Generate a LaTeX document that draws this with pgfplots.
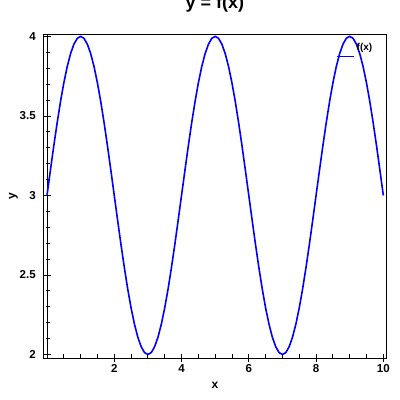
\documentclass[border=0pt]{standalone}
\usepackage{pgfplots}
\pgfplotsset{compat=1.18}
\usepackage{pgfplotstable}
\usepackage{fontspec}
\setmainfont{Liberation Sans}
\pgfplotsset{mylegend/.style={legend image code/.code={\draw[##1, line width=1.6pt] (0pt,-9pt) -- (17pt,-9pt);}}}
\pgfplotstableread{
x y
0.0 3.000
0.1 3.156
0.2 3.309
0.3 3.454
0.4 3.588
0.5 3.707
0.6 3.809
0.7 3.891
0.8 3.951
0.9 3.988
1.0 4.000
1.1 3.988
1.2 3.951
1.3 3.891
1.4 3.809
1.5 3.707
1.6 3.588
1.7 3.454
1.8 3.309
1.9 3.156
2.0 3.000
2.1 2.844
2.2 2.691
2.3 2.546
2.4 2.412
2.5 2.293
2.6 2.191
2.7 2.109
2.8 2.049
2.9 2.012
3.0 2.000
3.1 2.012
3.2 2.049
3.3 2.109
3.4 2.191
3.5 2.293
3.6 2.412
3.7 2.546
3.8 2.691
3.9 2.844
4.0 3.000
4.1 3.156
4.2 3.309
4.3 3.454
4.4 3.588
4.5 3.707
4.6 3.809
4.7 3.891
4.8 3.951
4.9 3.988
5.0 4.000
5.1 3.988
5.2 3.951
5.3 3.891
5.4 3.809
5.5 3.707
5.6 3.588
5.7 3.454
5.8 3.309
5.9 3.156
6.0 3.000
6.1 2.844
6.2 2.691
6.3 2.546
6.4 2.412
6.5 2.293
6.6 2.191
6.7 2.109
6.8 2.049
6.9 2.012
7.0 2.000
7.1 2.012
7.2 2.049
7.3 2.109
7.4 2.191
7.5 2.293
7.6 2.412
7.7 2.546
7.8 2.691
7.9 2.844
8.0 3.000
8.1 3.156
8.2 3.309
8.3 3.454
8.4 3.588
8.5 3.707
8.6 3.809
8.7 3.891
8.8 3.951
8.9 3.988
9.0 4.000
9.1 3.988
9.2 3.951
9.3 3.891
9.4 3.809
9.5 3.707
9.6 3.588
9.7 3.454
9.8 3.309
9.9 3.156
10.0 3.000
}\datatable
\begin{document}
\begin{tikzpicture}
\begin{axis}[
  at={(0pt,0pt)}, anchor=south west,
  scale only axis,
  width=343.4pt, height=323.5pt,
  xmin=-0.11, xmax=10.1,
  ymin=1.978, ymax=4.012,
  axis x line=bottom,
  axis y line=middle,
  axis line style={-, line width=0.8pt, black},
  every inner y axis line/.append style={-},
  xtick={2,4,6,8,10},
  ytick={2,2.5,3,3.5,4},
  minor xtick={0.5,1,1.5,2.5,3,3.5,4.5,5,5.5,6.5,7,7.5,8.5,9,9.5},
  minor ytick={2.1,2.2,2.3,2.4,2.6,2.7,2.8,2.9,3.1,3.2,3.3,3.4,3.6,3.7,3.8,3.9},
  tick align=center,
  major tick length=7.5pt,
  minor tick length=4pt,
  every minor x tick/.append style={yshift=2pt},
  every minor y tick/.append style={xshift=1.2pt},
  tick style={black, line width=0.8pt},
  /pgf/number format/assume math mode=true,
  tick label style={font=\bfseries\fontsize{11.5}{13}\selectfont},
  yticklabel style={xshift=-4pt},
  xticklabel style={yshift=1pt},
  title={y = f(x)},
  title style={font=\bfseries\fontsize{18}{20}\selectfont, at={(axis description cs:0.5,1)}, anchor=base, yshift=20.5pt},
  xlabel={x},
  ylabel={y},
  xlabel style={font=\bfseries\fontsize{12}{14}\selectfont, at={(axis description cs:0.5,0)}, anchor=base, yshift=-30pt},
  ylabel style={font=\bfseries\fontsize{12}{14}\selectfont, at={(axis description cs:-0.087,0.5)}, anchor=center, rotate=90},
  mylegend,
  legend style={draw=none, fill=none, inner sep=0pt, font=\bfseries\fontsize{10}{12}\selectfont,
    at={(axis description cs:0.852,0.955)}, anchor=west},
  clip=false,
]
\addplot[blue, line width=1.6pt] table[x=x, y=y] {\datatable};
\addlegendentry{f(x)}
\draw[black, line width=0.8pt] (rel axis cs:0,0) rectangle (rel axis cs:1,1);
\end{axis}
\pgfresetboundingbox
\useasboundingbox (-43.3pt,-42pt) rectangle (356.7pt,358pt);
\end{tikzpicture}
\end{document}
